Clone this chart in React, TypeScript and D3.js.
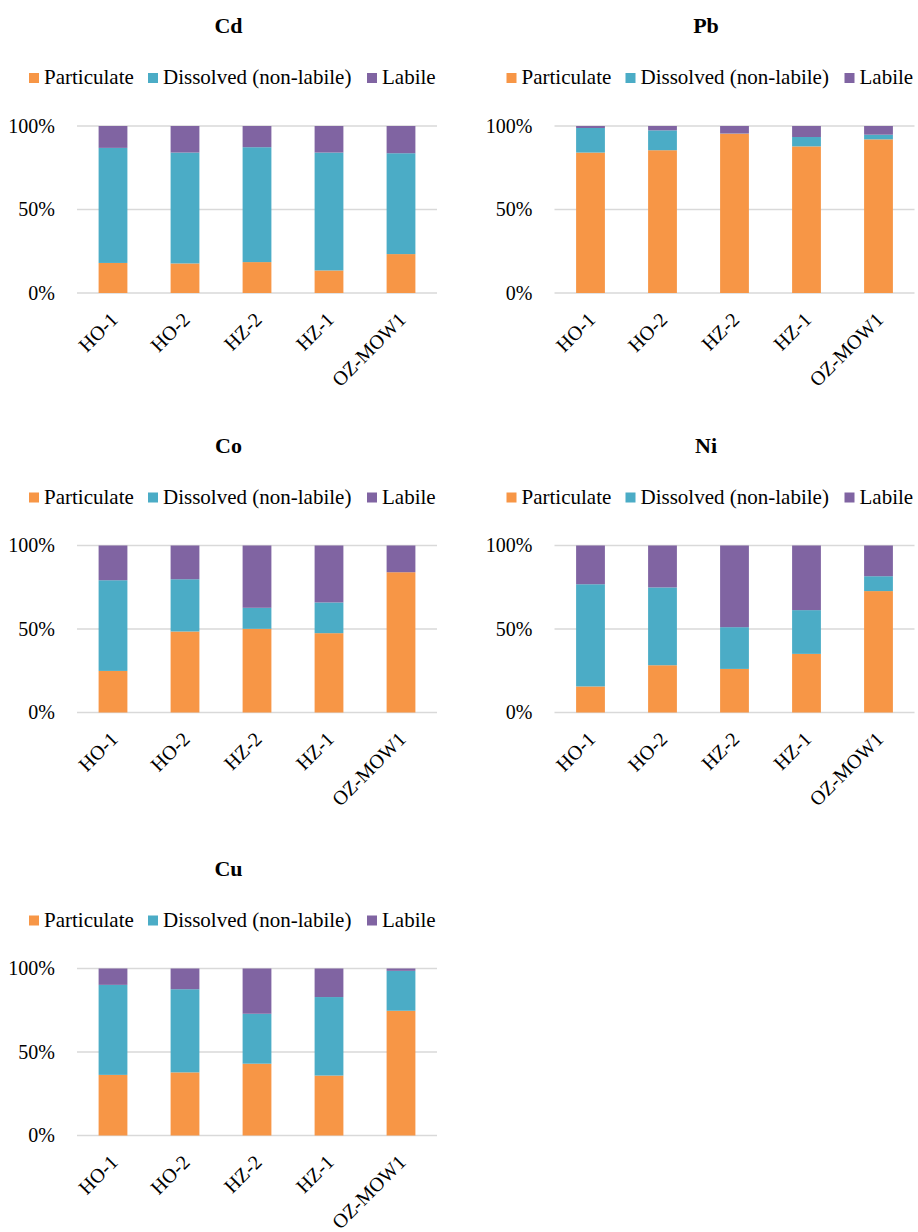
import React from "react";
import * as d3 from "d3";

const categories = ["HO-1", "HO-2", "HZ-2", "HZ-1", "OZ-MOW1"];
const seriesNames = ["Particulate", "Dissolved (non-labile)", "Labile"];
const seriesColors = ["#F79646", "#4BACC6", "#8064A2"];
const yTicks = [0, 0.5, 1];
const yTickLabels = ["0%", "50%", "100%"];

const cdParticulate = [18, 17.7, 18.5, 13.5, 23.3];
const cdDissolved = [68.9, 66.4, 68.8, 70.6, 60.4];
const pbParticulate = [84.1, 85.5, 95.4, 87.8, 92.0];
const pbDissolved = [14.7, 11.9, 0.1, 5.6, 2.8];
const coParticulate = [24.9, 48.5, 50.1, 47.5, 84.0];
const coDissolved = [54.3, 31.3, 12.6, 18.4, 0];
const niParticulate = [15.6, 28.3, 26.1, 35.1, 72.7];
const niDissolved = [61.2, 46.6, 25.0, 26.2, 8.9];
const cuParticulate = [36.3, 37.8, 43.0, 35.9, 74.7];
const cuDissolved = [53.9, 49.8, 29.9, 47.0, 23.9];

const panels = [
  { title: "Cd", p: cdParticulate, d: cdDissolved, col: 0, row: 0 },
  { title: "Pb", p: pbParticulate, d: pbDissolved, col: 1, row: 0 },
  { title: "Co", p: coParticulate, d: coDissolved, col: 0, row: 1 },
  { title: "Ni", p: niParticulate, d: niDissolved, col: 1, row: 1 },
  { title: "Cu", p: cuParticulate, d: cuDissolved, col: 0, row: 2 },
];

const FONT = "Liberation Serif, Times New Roman, serif";
const colX = [77, 554.5];
const rowY = [126, 545.5, 968.5];
const plotW = 360;
const plotH = 167;
const legendMarkerOffsets = [29, 148, 367];

function Panel({ panel }: { panel: any }) {
  const x0 = colX[panel.col];
  const y0 = rowY[panel.row];
  const x = d3.scaleBand<string>().domain(categories).range([x0, x0 + plotW]).paddingInner(0.6).paddingOuter(0.3);
  const y = d3.scaleLinear().domain([0, 1]).range([y0 + plotH, y0]);
  const rows = categories.map((c, i) => {
    const p = panel.p[i];
    const dd = panel.d[i];
    const l = Math.max(0, 100 - p - dd);
    return { cat: c, Particulate: p / 100, Dissolved: dd / 100, Labile: l / 100 };
  });
  const stack = d3.stack<any>().keys(["Particulate", "Dissolved", "Labile"]);
  const stacked = stack(rows);
  const dy = y0 - 126;
  const dx = x0 - 77;
  return (
    <g>
      <text x={228.5 + dx} y={33 + dy} textAnchor="middle" fontFamily={FONT} fontWeight="bold" fontSize={22} fill="#000">
        {panel.title}
      </text>
      {seriesNames.map((n, i) => (
        <g key={n}>
          <rect x={legendMarkerOffsets[i] + dx} y={73 + dy} width={10} height={10} fill={seriesColors[i]} />
          <text x={legendMarkerOffsets[i] + dx + 15} y={84 + dy} fontFamily={FONT} fontSize={21} fill="#000">
            {n}
          </text>
        </g>
      ))}
      {yTicks.map((t, i) => (
        <g key={t}>
          <line x1={x0} x2={x0 + plotW} y1={y(t)} y2={y(t)} stroke="#D9D9D9" strokeWidth={1.5} />
          <text x={x0 - 22} y={y(t) + 6.5} textAnchor="end" fontFamily={FONT} fontSize={20} fill="#000">
            {yTickLabels[i]}
          </text>
        </g>
      ))}
      {stacked.map((s, si) => (
        <g key={s.key} fill={seriesColors[si]}>
          {s.map((seg, ci) => {
            const h = y(seg[0]) - y(seg[1]);
            if (h <= 0) return null;
            return (
              <rect key={ci} x={x(categories[ci])!} width={x.bandwidth()} y={y(seg[1])} height={h} />
            );
          })}
        </g>
      ))}
      {categories.map((c) => {
        const cx = x(c)! + x.bandwidth() / 2;
        return (
          <text
            key={c}
            transform={`translate(${cx + 6},${y0 + plotH + 28}) rotate(-45)`}
            textAnchor="end"
            fontFamily={FONT}
            fontSize={20}
            fill="#000"
          >
            {c}
          </text>
        );
      })}
    </g>
  );
}

export default function App() {
  return (
    <svg width={918} height={1232} style={{ position: "absolute", left: 0, top: 0, background: "#fff" }}>
      <rect width={918} height={1232} fill="#fff" />
      {panels.map((p) => (
        <Panel key={p.title} panel={p} />
      ))}
    </svg>
  );
}
